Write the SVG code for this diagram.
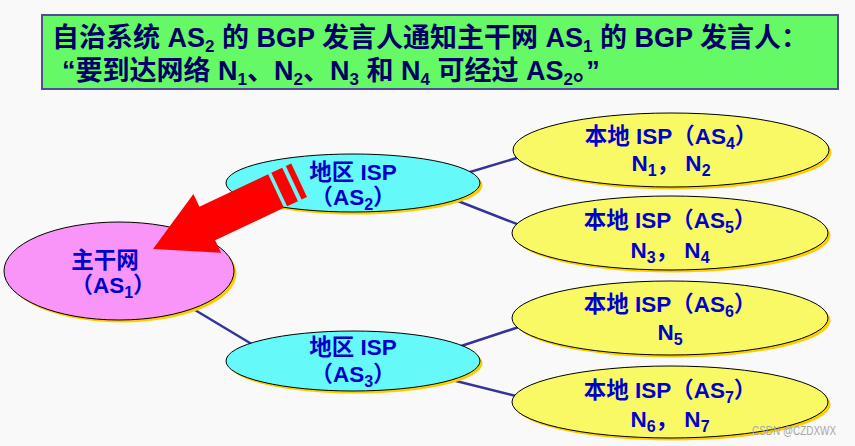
<svg xmlns="http://www.w3.org/2000/svg" width="855" height="446" viewBox="0 0 855 446">
<style>
.title{font-family:"Liberation Sans","Noto Sans CJK SC",sans-serif;font-weight:bold;font-size:27px;fill:#000066}
.lbl{font-family:"Liberation Sans","Noto Sans CJK SC",sans-serif;font-weight:bold;font-size:22.5px;fill:#0000cc;text-anchor:middle}
.sub{font-size:16px}
.tsub{font-size:17px}
.shadow{fill:#ffcc00}
.node{stroke:#000000;stroke-width:1}
.pink{fill:#f995f9}
.cyan{fill:#66f9f9}
.yellow{fill:#f9f966}
.conn{stroke:#333399;stroke-width:2.5;fill:none}
</style>
<rect x="0" y="0" width="855" height="446" fill="#f9f9f9"/>
<g id="title">
<rect x="42" y="15" width="796" height="74" fill="#66f966" stroke="#4d4d99" stroke-width="2"/>
<text class="title" x="52" y="47">自治系统 AS<tspan class="tsub" dy="4.5">2</tspan><tspan dy="-4.5"> 的 BGP 发言人通知主干网 AS</tspan><tspan class="tsub" dy="4.5">1</tspan><tspan dy="-4.5"> 的 BGP 发言人：</tspan></text>
<text class="title" x="62" y="80">“要到达网络 N<tspan class="tsub" dy="4.5">1</tspan><tspan dy="-4.5">、N</tspan><tspan class="tsub" dy="4.5">2</tspan><tspan dy="-4.5">、N</tspan><tspan class="tsub" dy="4.5">3</tspan><tspan dy="-4.5"> 和 N</tspan><tspan class="tsub" dy="4.5">4</tspan><tspan dy="-4.5"> 可经过 AS</tspan><tspan class="tsub" dy="4.5">2</tspan><tspan dy="-4.5">。”</tspan></text>
</g>
<g id="connectors">
<line class="conn" x1="440" y1="181" x2="540" y2="151"/>
<line class="conn" x1="440" y1="194" x2="540" y2="233"/>
<line class="conn" x1="180" y1="301" x2="270" y2="355"/>
<line class="conn" x1="440" y1="353" x2="540" y2="320"/>
<line class="conn" x1="440" y1="377" x2="540" y2="402"/>
</g>
<g id="as1">
<ellipse class="shadow" cx="121.5" cy="273.5" rx="115" ry="49"/>
<ellipse class="node pink" cx="119" cy="271" rx="115" ry="49"/>
<text class="lbl" x="105" y="268">主干网</text>
<text class="lbl" x="113" y="293">（AS<tspan class="sub" dy="5">1</tspan><tspan dy="-5">）</tspan></text>
</g>
<g id="as2">
<ellipse class="shadow" cx="355.5" cy="185.5" rx="127" ry="29"/>
<ellipse class="node cyan" cx="353" cy="183" rx="127" ry="29"/>
<text class="lbl" x="353" y="180">地区 ISP</text>
<text class="lbl" x="353" y="205">（AS<tspan class="sub" dy="5">2</tspan><tspan dy="-5">）</tspan></text>
</g>
<g id="as3">
<ellipse class="shadow" cx="355.5" cy="363.5" rx="127" ry="30"/>
<ellipse class="node cyan" cx="353" cy="361" rx="127" ry="30"/>
<text class="lbl" x="353" y="355">地区 ISP</text>
<text class="lbl" x="353" y="382">（AS<tspan class="sub" dy="5">3</tspan><tspan dy="-5">）</tspan></text>
</g>
<g id="as4">
<ellipse class="shadow" cx="673.5" cy="152.5" rx="158" ry="37"/>
<ellipse class="node yellow" cx="671" cy="150" rx="158" ry="37"/>
<text class="lbl" x="671" y="144">本地 ISP（AS<tspan class="sub" dy="5">4</tspan><tspan dy="-5">）</tspan></text>
<text class="lbl" x="671" y="171">N<tspan class="sub" dy="5">1</tspan><tspan dy="-5">， N</tspan><tspan class="sub" dy="5">2</tspan></text>
</g>
<g id="as5">
<ellipse class="shadow" cx="672.5" cy="235.5" rx="158" ry="37"/>
<ellipse class="node yellow" cx="670" cy="233" rx="158" ry="37"/>
<text class="lbl" x="670" y="228">本地 ISP（AS<tspan class="sub" dy="5">5</tspan><tspan dy="-5">）</tspan></text>
<text class="lbl" x="670" y="258">N<tspan class="sub" dy="5">3</tspan><tspan dy="-5">， N</tspan><tspan class="sub" dy="5">4</tspan></text>
</g>
<g id="as6">
<ellipse class="shadow" cx="672.5" cy="320.5" rx="158" ry="37"/>
<ellipse class="node yellow" cx="670" cy="318" rx="158" ry="37"/>
<text class="lbl" x="670" y="312">本地 ISP（AS<tspan class="sub" dy="5">6</tspan><tspan dy="-5">）</tspan></text>
<text class="lbl" x="670" y="340">N<tspan class="sub" dy="5">5</tspan></text>
</g>
<g id="as7">
<ellipse class="shadow" cx="672.5" cy="404.5" rx="158" ry="36"/>
<ellipse class="node yellow" cx="670" cy="402" rx="158" ry="36"/>
<text class="lbl" x="670" y="398">本地 ISP（AS<tspan class="sub" dy="5">7</tspan><tspan dy="-5">）</tspan></text>
<text class="lbl" x="670" y="427">N<tspan class="sub" dy="5">6</tspan><tspan dy="-5">， N</tspan><tspan class="sub" dy="5">7</tspan></text>
</g>
<g id="arrow" transform="translate(153,249) rotate(154.8)" fill="#ff0000">
<polygon points="0,0 -60,-32.5 -60,-18.5 -136,-18.5 -136,18.5 -60,18.5 -60,32.5"/>
<rect x="-151.5" y="-18.5" width="12" height="37"/>
<rect x="-161.5" y="-18.5" width="6" height="37"/>
</g>
<text x="752" y="435" font-family="Liberation Sans, sans-serif" font-size="12" textLength="84" lengthAdjust="spacingAndGlyphs" fill="#a8a8a8">CSDN @CZDXWX</text>
</svg>
